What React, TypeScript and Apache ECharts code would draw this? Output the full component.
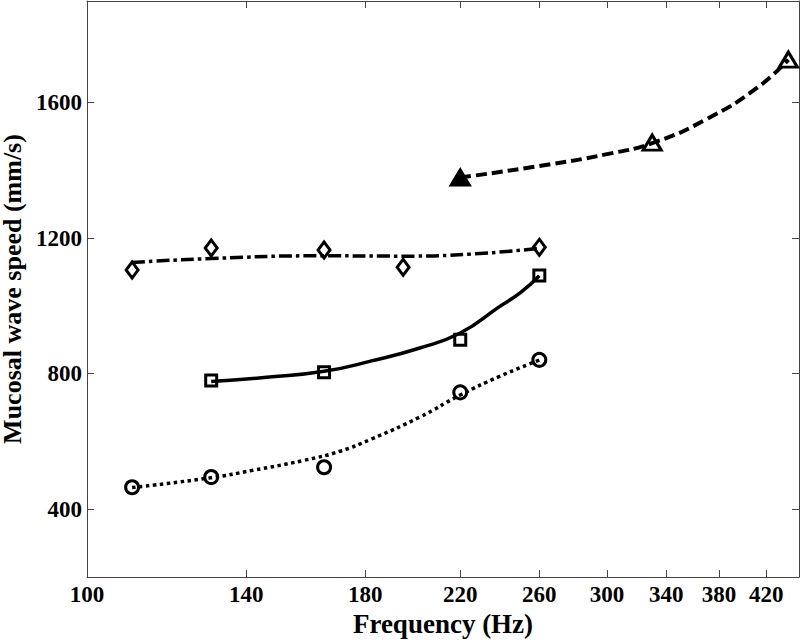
import React, { useEffect, useRef } from "react";
import * as echarts from "echarts";

// Measured points
const circleFreq = [110, 130, 165, 220, 260];
const circleSpeed = [465, 495, 524, 745, 841];
const squareFreq = [130, 165, 220, 260];
const squareSpeed = [780, 804, 900, 1090];
const diamondFreq = [110, 130, 165, 195, 260];
const diamondSpeed = [1106, 1171, 1165, 1114, 1173];
const triangleFreq = [220, 330, 440];
const triangleSpeed = [1379, 1482, 1727];

// Fitted curves
const circleFitFreq = [110, 130, 142, 158, 171, 182, 202, 220, 239, 260];
const circleFitSpeed = [464, 493, 515, 544, 572, 606, 672, 737, 792, 840];
const squareFitFreq = [130, 147, 165, 182, 202, 220, 239, 250, 260];
const squareFitSpeed = [777, 790, 807, 837, 876, 920, 998, 1040, 1089];
const diamondFitFreq = [110, 130, 165, 195, 225, 260];
const diamondFitSpeed = [1128, 1140, 1148, 1147, 1153, 1170];
const triangleFitFreq = [220, 260, 300, 331, 370, 412, 440];
const triangleFitSpeed = [1379, 1413, 1448, 1482, 1551, 1644, 1727];

const xTicks = [100, 140, 180, 220, 260, 300, 340, 380, 420];
const yTicks = [400, 800, 1200, 1600];

const FONT = "Liberation Serif";
const AXIS_COLOR = "#444";

function zip(a: number[], b: number[]) {
  return a.map((v, i) => [v, b[i]]);
}

export default function App() {
  const ref = useRef<HTMLDivElement>(null);
  useEffect(() => {
    if (!ref.current) return;
    const chart = echarts.init(ref.current, null, { renderer: "svg" });
    const axisLine = { show: true, lineStyle: { color: AXIS_COLOR, width: 1 } };
    const tick = (vals: number[]) => ({
      show: true,
      inside: true,
      length: 7,
      customValues: vals,
      lineStyle: { color: AXIS_COLOR, width: 1 },
    });
    const labelStyle = {
      fontFamily: FONT,
      fontWeight: "bold" as const,
      fontSize: 23,
      color: "#000",
      formatter: (v: number) => String(Math.round(v)),
    };
    const fitLine = (
      name: string,
      fx: number[],
      fy: number[],
      type: any,
      width: number
    ) => ({
      name,
      type: "line",
      data: zip(fx, fy),
      showSymbol: false,
      symbol: "none",
      smooth: 0.5,
      lineStyle: { color: "#000", width, type, cap: "butt" },
      z: 2,
      silent: true,
    });
    const markers = (
      name: string,
      fx: number[],
      fy: number[],
      symbol: string,
      size: any
    ) => ({
      name,
      type: "scatter",
      data: zip(fx, fy),
      symbol,
      symbolSize: size,
      itemStyle: {
        color: "rgba(255,255,255,0)",
        borderColor: "#000",
        borderWidth: 3,
        opacity: 1,
      },
      z: 5,
    });
    const triData: any[] = zip(triangleFreq, triangleSpeed).map((d, i) =>
      i === 0 ? { value: d, itemStyle: { color: "#000" } } : { value: d }
    );
    chart.setOption({
      animation: false,
      backgroundColor: "#fff",
      grid: {
        left: 87,
        right: 1,
        top: 1,
        bottom: 64,
        containLabel: false,
        outerBoundsMode: "none",
      },
      xAxis: [
        {
          type: "log",
          min: 100,
          max: 450,
          logBase: 10,
          position: "bottom",
          axisLine,
          axisTick: tick(xTicks),
          axisLabel: { ...labelStyle, margin: 6, customValues: xTicks },
          splitLine: { show: false },
          minorTick: { show: false },
          name: "Frequency (Hz)",
          nameLocation: "middle",
          nameGap: 29,
          nameTextStyle: {
            fontFamily: FONT,
            fontWeight: "bold",
            fontSize: 27,
            color: "#000",
          },
        },
        {
          type: "log",
          min: 100,
          max: 450,
          logBase: 10,
          position: "top",
          axisLine,
          axisTick: tick(xTicks),
          axisLabel: { show: false, customValues: xTicks },
          splitLine: { show: false },
        },
      ],
      yAxis: [
        {
          type: "value",
          min: 200,
          max: 1900,
          position: "left",
          axisLine,
          axisTick: tick(yTicks),
          axisLabel: { ...labelStyle, margin: 5, customValues: yTicks },
          splitLine: { show: false },
          name: "Mucosal wave speed (mm/s)",
          nameLocation: "middle",
          nameGap: 53,
          nameTextStyle: {
            fontFamily: FONT,
            fontWeight: "bold",
            fontSize: 26,
            color: "#000",
          },
        },
        {
          type: "value",
          min: 200,
          max: 1900,
          position: "right",
          axisLine,
          axisTick: tick(yTicks),
          axisLabel: { show: false, customValues: yTicks },
          splitLine: { show: false },
        },
      ],
      series: [
        fitLine("circle fit", circleFitFreq, circleFitSpeed, [3.5, 3.5], 3.5),
        fitLine("square fit", squareFitFreq, squareFitSpeed, "solid", 3.5),
        fitLine("diamond fit", diamondFitFreq, diamondFitSpeed, [13, 4, 3.5, 4], 3.5),
        fitLine("triangle fit", triangleFitFreq, triangleFitSpeed, [11, 5], 4),
        markers("circle", circleFreq, circleSpeed, "circle", 13),
        markers("square", squareFreq, squareSpeed, "rect", 11),
        markers("diamond", diamondFreq, diamondSpeed, "diamond", [12, 16]),
        {
          ...markers("triangle", triangleFreq, triangleSpeed, "triangle", [18, 15]),
          data: triData,
        },
      ],
    });
    return () => chart.dispose();
  }, []);
  return (
    <div
      ref={ref}
      style={{ position: "absolute", left: 0, top: 0, width: 800, height: 641 }}
    />
  );
}
